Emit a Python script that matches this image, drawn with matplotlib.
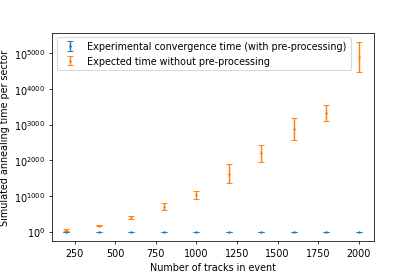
import matplotlib
matplotlib.use("Agg")
import matplotlib.pyplot as plt
from matplotlib.ticker import FuncFormatter, MultipleLocator

# x: number of tracks; y values are log10 of time (exponents)
tracks = [200, 400, 600, 800, 1000, 1200, 1400, 1600, 1800, 2000]
exp_log = [0, 0, 0, 0, 0, 0, 0, 0, 0, 0]
exp_err = [3, 3, 3, 3, 3, 3, 3, 3, 3, 3]
nopre_log = [45, 170, 410, 700, 1030, 1630, 2200, 2890, 3340, 4900]
nopre_err = [30, 20, 40, 95, 120, 265, 235, 305, 225, 420]

fig = plt.figure(figsize=(6, 4), dpi=415/6)
ax = fig.add_axes([0.125, 0.125, 0.775, 0.755])

ax.errorbar(tracks, exp_log, yerr=exp_err, fmt='.', ms=3, capsize=3,
            color='#1f77b4', label='Experimental convergence time (with pre-processing)')
ax.errorbar(tracks, nopre_log, yerr=nopre_err, fmt='.', ms=3, capsize=3,
            color='#ff7f0e', label='Expected time without pre-processing')

ax.yaxis.set_major_locator(MultipleLocator(1000))
ax.yaxis.set_major_formatter(FuncFormatter(lambda v, p: r'$10^{%d}$' % int(round(v))))
ax.set_xlabel('Number of tracks in event')
ax.set_ylabel('Simulated annealing time per sector')
ax.legend(loc='upper left')

fig.savefig('out.png', dpi=415/6)
